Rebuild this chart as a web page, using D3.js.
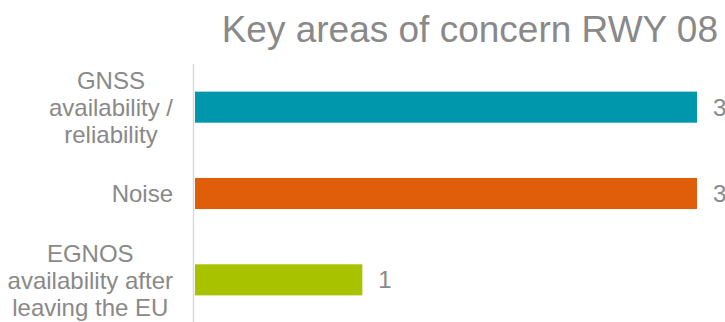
<!DOCTYPE html>
<html>
<head>
<meta charset="utf-8">
<script src="https://cdn.jsdelivr.net/npm/d3@7"></script>
<style>
  html, body { margin: 0; padding: 0; background: #ffffff; }
  svg { display: block; font-family: Arial, "Liberation Sans", Helvetica, sans-serif; }
</style>
</head>
<body>
<svg id="chart" width="725" height="322"></svg>
<script>
// Chart data
const title = "Key areas of concern RWY 08";
const categories = ["GNSS availability / reliability", "Noise", "EGNOS availability after leaving the EU"];
const categoryLines = [
  ["GNSS", "availability /", "reliability"],
  ["Noise"],
  ["EGNOS", "availability after", "leaving the EU"]
];
const values = [3, 3, 1];
const barColors = ["#0097AC", "#E05E0A", "#A9C200"];

const svg = d3.select("#chart");
const textColor = "#898989";

const x = d3.scaleLinear().domain([0, 3]).range([195, 697]);
const y = d3.scaleBand().domain(categories).range([64, 323]).paddingInner(0.64).paddingOuter(0.32);

// Title
svg.append("text")
  .attr("x", 718).attr("y", 42)
  .attr("text-anchor", "end")
  .attr("font-size", 37)
  .attr("fill", textColor)
  .text(title);

// Vertical category axis line
svg.append("line")
  .attr("x1", 193.5).attr("x2", 193.5)
  .attr("y1", 64).attr("y2", 322)
  .attr("stroke", "#d9d9d9").attr("stroke-width", 1.5);

// Bars
svg.selectAll("rect.bar").data(values).join("rect")
  .attr("class", "bar")
  .attr("x", x(0))
  .attr("y", (d, i) => y(categories[i]))
  .attr("width", d => x(d) - x(0))
  .attr("height", y.bandwidth())
  .attr("fill", (d, i) => barColors[i]);

// Value labels
svg.selectAll("text.val").data(values).join("text")
  .attr("class", "val")
  .attr("x", d => x(d) + 16)
  .attr("y", (d, i) => y(categories[i]) + y.bandwidth() / 2 + 8.5)
  .attr("font-size", 24)
  .attr("fill", textColor)
  .text(d => d);

// Category labels: lines centred within a block that is right-aligned to the axis
const lineH = 27;
const fontSize = 24;
const labelRight = 173;
categoryLines.forEach((lines, i) => {
  const cy = y(categories[i]) + y.bandwidth() / 2;
  const g = svg.append("g");
  const texts = lines.map((ln, k) => g.append("text")
    .attr("font-size", fontSize)
    .attr("fill", textColor)
    .attr("text-anchor", "middle")
    .attr("y", cy + (k - (lines.length - 1) / 2) * lineH + 8.7)
    .text(ln));
  const maxW = d3.max(texts, t => t.node().getComputedTextLength());
  texts.forEach(t => t.attr("x", labelRight - maxW / 2));
});
</script>
</body>
</html>
